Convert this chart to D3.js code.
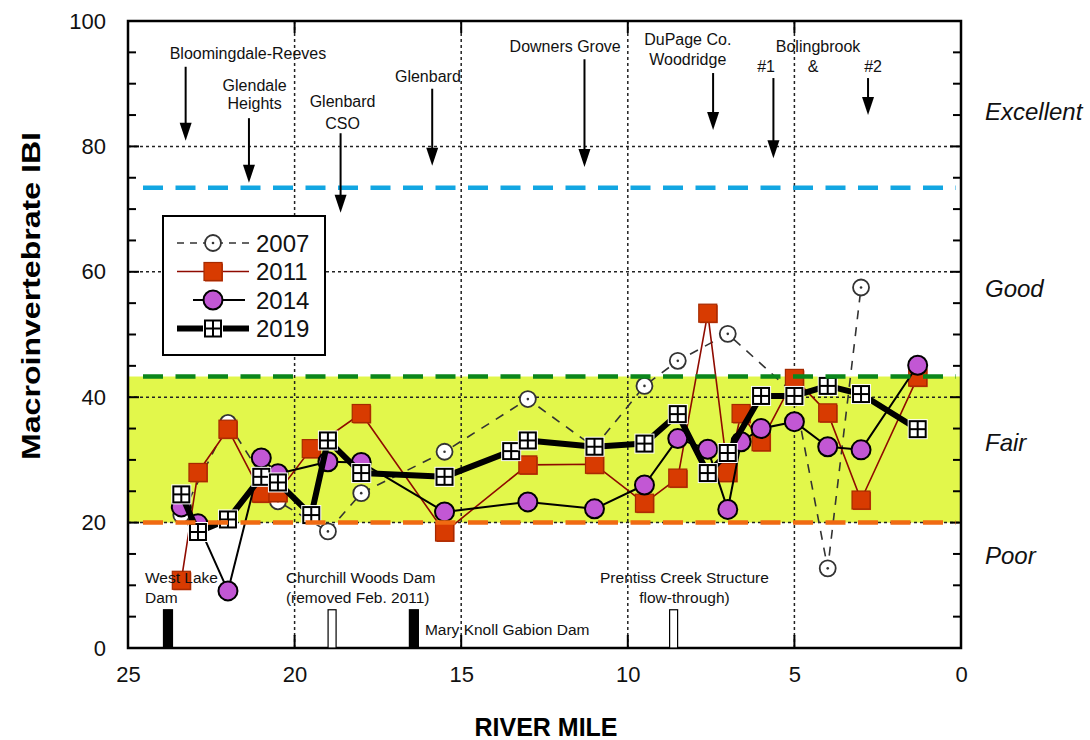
<!DOCTYPE html>
<html>
<head>
<meta charset="utf-8">
<script src="https://cdn.jsdelivr.net/npm/d3@7"></script>
<style>
  body { margin: 0; background: #fff; }
  svg text { font-family: "Liberation Sans", Arial, sans-serif; }
</style>
</head>
<body>
<div class="canvas"></div>
<script>
'use strict';

// River mile / IBI values per survey year
var miles2007 = [23.4, 22, 20.5, 19, 18, 15.5, 13, 11, 9.5, 8.5, 7, 5, 4, 3];
var ibi2007 = [21.2, 35.9, 23.4, 18.6, 24.7, 31.3, 39.7, 32, 41.8, 45.8, 50.1, 40.5, 12.7, 57.5];

var miles2011 = [23.4, 22.9, 22, 21, 20.5, 19.5, 18, 15.5, 13, 11, 9.5, 8.5, 7.6, 7, 6.6, 6, 5, 4, 3, 1.3];
var ibi2011 = [10.8, 28.0, 34.9, 24.7, 24.8, 31.8, 37.4, 18.5, 29.2, 29.3, 23.1, 27.1, 53.4, 28.0, 37.4, 32.9, 43.0, 37.5, 23.6, 43.2];

var miles2014 = [23.4, 22.9, 22, 21, 20.5, 19, 18, 15.5, 13, 11, 9.5, 8.5, 7.6, 7, 6.6, 6, 5, 4, 3, 1.3];
var ibi2014 = [22.5, 19.8, 9.1, 30.3, 27.8, 29.7, 29.6, 21.7, 23.3, 22.2, 26.0, 33.4, 31.7, 22.1, 32.9, 35.0, 36.1, 32.1, 31.6, 45.1];

var miles2019 = [23.4, 22.9, 22, 21, 20.5, 19.5, 19, 18, 15.5, 13.5, 13, 11, 9.5, 8.5, 7.6, 7, 6, 5, 4, 3, 1.3];
var ibi2019 = [24.5, 18.5, 20.5, 27.3, 26.4, 21.2, 33.1, 27.9, 27.3, 31.4, 33.1, 32.1, 32.6, 37.3, 27.9, 31.1, 40.2, 40.2, 41.8, 40.5, 34.9];

// Axis ticks
var xTicks = [25, 20, 15, 10, 5, 0];
var yTicks = [0, 20, 40, 60, 80, 100];

// Rating thresholds and labels
var fairLow = 20;
var fairHigh = 43.3;
var excellentLine = 73.4;
var ratings = [
  { label: 'Excellent', ibi: 85.5 },
  { label: 'Good', ibi: 57.4 },
  { label: 'Fair', ibi: 32.7 },
  { label: 'Poor', ibi: 14.7 }
];

// Discharges (text lines in IBI units, arrow from y1 down to y2)
var outfalls = [
  { lines: ['Bloomingdale-Reeves'], tx: 21.4, ty: [94.9], ax: 23.27, y1: 92.7, y2: 80.9 },
  { lines: ['Glendale', 'Heights'], tx: 21.2, ty: [89.8, 86.8], ax: 21.37, y1: 84.5, y2: 74.2 },
  { lines: ['Glenbard', 'CSO'], tx: 18.56, ty: [87.1, 83.6], ax: 18.62, y1: 82.1, y2: 69.4 },
  { lines: ['Glenbard'], tx: 16.0, ty: [91.2], ax: 15.87, y1: 89.2, y2: 76.9 },
  { lines: ['Downers Grove'], tx: 11.88, ty: [96.0], ax: 11.3, y1: 93.9, y2: 76.7 },
  { lines: ['DuPage Co.', 'Woodridge'], tx: 8.2, ty: [97.0, 93.9], ax: 7.44, y1: 91.7, y2: 82.6 },
  { lines: ['Bolingbrook'], tx: 4.29, ty: [96.0], ax: 5.63, y1: 90.9, y2: 78.1 },
  { lines: ['#1'], tx: 5.85, ty: [92.7], ax: null },
  { lines: ['&'], tx: 4.44, ty: [92.7], ax: null },
  { lines: ['#2'], tx: 2.64, ty: [92.7], ax: 2.79, y1: 90.9, y2: 85.0 }
];

// Dams / structures along the bottom
var dams = [
  { mile: 23.8, solid: true },
  { mile: 18.86, solid: false },
  { mile: 16.42, solid: true },
  { mile: 8.61, solid: false }
];
var damHeight = 6.1;
var damLabels = [
  { lines: ['West Lake', 'Dam'], mile: 24.49, ty: [11.3, 8.0], anchor: 'start' },
  { lines: ['Churchill Woods Dam', '(removed Feb. 2011)'], mile: 20.26, ty: [11.3, 8.0], anchor: 'start' },
  { lines: ['Mary Knoll Gabion Dam'], mile: 16.09, ty: [3.0], anchor: 'start' },
  { lines: ['Prentiss Creek Structure', 'flow-through)'], mile: 8.3, ty: [11.3, 8.0], anchor: 'middle' }
];

var width = 1090;
var height = 740;
var margin = { top: 21, right: 129, bottom: 92, left: 128 };
var graphWidth = width - margin.left - margin.right;
var graphHeight = height - margin.top - margin.bottom;

var svg = d3.select('.canvas').append('svg').attr('width', width).attr('height', height);
var graph = svg.append('g').attr('transform', 'translate(' + margin.left + ', ' + margin.top + ')');

var x = d3.scaleLinear().domain([25, 0]).range([0, graphWidth]);
var y = d3.scaleLinear().domain([0, 100]).range([graphHeight, 0]);

// Fair band
graph.append('rect')
  .attr('x', 0).attr('width', graphWidth)
  .attr('y', y(fairHigh)).attr('height', y(fairLow) - y(fairHigh))
  .attr('fill', '#e2f74b');

// Dotted grid
var gridDash = '3,3';
graph.append('g').selectAll('line').data(yTicks.slice(1))
  .enter().append('line')
  .attr('x1', 0).attr('x2', graphWidth)
  .attr('y1', function (d) { return y(d); }).attr('y2', function (d) { return y(d); })
  .attr('stroke', '#222').attr('stroke-width', 1.5).attr('stroke-dasharray', gridDash);
graph.append('g').selectAll('line').data([20, 15, 10, 5])
  .enter().append('line')
  .attr('y1', 0).attr('y2', graphHeight)
  .attr('x1', function (d) { return x(d); }).attr('x2', function (d) { return x(d); })
  .attr('stroke', '#222').attr('stroke-width', 1.5).attr('stroke-dasharray', gridDash);

// Axes: ticks point inward
var yMinor = d3.range(0, 101, 5);
var xAxis = d3.axisBottom(x).tickValues(xTicks).tickSize(0).tickPadding(18);
var yAxis = d3.axisLeft(y).tickValues(yTicks).tickSize(0).tickPadding(22);

var xAxisGroup = graph.append('g').attr('transform', 'translate(0, ' + graphHeight + ')').call(xAxis);
var yAxisGroup = graph.append('g').call(yAxis);
[xAxisGroup, yAxisGroup].forEach(function (g) {
  g.select('.domain').remove();
  g.selectAll('text').attr('font-size', 22).attr('fill', '#111')
    .attr('font-family', '"Liberation Sans", Arial, sans-serif');
});

var tickG = graph.append('g').attr('stroke', '#000').attr('stroke-width', 2);
yMinor.forEach(function (v) {
  var len = v % 20 === 0 ? 11 : 8;
  tickG.append('line').attr('x1', 0).attr('x2', len).attr('y1', y(v)).attr('y2', y(v));
  tickG.append('line').attr('x1', graphWidth - len).attr('x2', graphWidth).attr('y1', y(v)).attr('y2', y(v));
});
xTicks.forEach(function (m) {
  tickG.append('line').attr('x1', x(m)).attr('x2', x(m)).attr('y1', graphHeight).attr('y2', graphHeight - 13);
  tickG.append('line').attr('x1', x(m)).attr('x2', x(m)).attr('y1', 0).attr('y2', 12);
});

// Frame
graph.append('rect').attr('width', graphWidth).attr('height', graphHeight)
  .attr('fill', 'none').attr('stroke', '#000').attr('stroke-width', 2.5);

// Series
function pairs(ms, vs) {
  return ms.map(function (m, i) { return { mile: m, ibi: vs[i] }; });
}
var line = d3.line().x(function (d) { return x(d.mile); }).y(function (d) { return y(d.ibi); });

var series = [
  { data: pairs(miles2007, ibi2007), stroke: '#333', width: 1.6, dash: '9,8', symbol: 'open' },
  { data: pairs(miles2011, ibi2011), stroke: '#8f0b00', width: 1.6, dash: null, symbol: 'red' },
  { data: pairs(miles2014, ibi2014), stroke: '#000', width: 2, dash: null, symbol: 'purple' },
  { data: pairs(miles2019, ibi2019), stroke: '#000', width: 6, dash: null, symbol: 'grid' }
];

function drawSymbol(g, kind, cx, cy) {
  if (kind === 'open') {
    g.append('circle').attr('cx', cx).attr('cy', cy).attr('r', 8)
      .attr('fill', '#fff').attr('stroke', '#333').attr('stroke-width', 1.8);
    g.append('circle').attr('cx', cx).attr('cy', cy).attr('r', 1.3).attr('fill', '#333');
  } else if (kind === 'red') {
    g.append('rect').attr('x', cx - 8).attr('y', cy - 8).attr('width', 18).attr('height', 18)
      .attr('fill', '#c83a12');
    g.append('rect').attr('x', cx - 9).attr('y', cy - 9).attr('width', 18).attr('height', 18)
      .attr('fill', '#d83b01').attr('stroke', '#a52a00').attr('stroke-width', 1.2);
  } else if (kind === 'purple') {
    g.append('circle').attr('cx', cx).attr('cy', cy).attr('r', 9.5)
      .attr('fill', '#c257d4').attr('stroke', '#000').attr('stroke-width', 2);
  } else {
    g.append('rect').attr('x', cx - 10).attr('y', cy - 10).attr('width', 20).attr('height', 20)
      .attr('fill', '#fff');
    g.append('rect').attr('x', cx - 8).attr('y', cy - 8).attr('width', 16).attr('height', 16)
      .attr('fill', '#fff').attr('stroke', '#000').attr('stroke-width', 2);
    g.append('line').attr('x1', cx).attr('x2', cx).attr('y1', cy - 8).attr('y2', cy + 8)
      .attr('stroke', '#000').attr('stroke-width', 2);
    g.append('line').attr('x1', cx - 8).attr('x2', cx + 8).attr('y1', cy).attr('y2', cy)
      .attr('stroke', '#000').attr('stroke-width', 2);
  }
}

series.forEach(function (s) {
  var g = graph.append('g');
  g.append('path').datum(s.data).attr('d', line)
    .attr('fill', 'none').attr('stroke', s.stroke).attr('stroke-width', s.width)
    .attr('stroke-dasharray', s.dash).attr('stroke-linejoin', 'round');
  s.data.forEach(function (d) { drawSymbol(g, s.symbol, x(d.mile), y(d.ibi)); });
});

// Threshold lines
var thresholds = [
  { ibi: excellentLine, color: '#12a6e2' },
  { ibi: fairHigh, color: '#0b861c' },
  { ibi: fairLow, color: '#f06a12' }
];
graph.append('g').selectAll('line').data(thresholds)
  .enter().append('line')
  .attr('x1', 15).attr('x2', graphWidth - 5)
  .attr('y1', function (d) { return y(d.ibi); }).attr('y2', function (d) { return y(d.ibi); })
  .attr('stroke', function (d) { return d.color; })
  .attr('stroke-width', 4.5).attr('stroke-dasharray', '20,12.5');

// Dams
graph.append('g').selectAll('rect').data(dams)
  .enter().append('rect')
  .attr('x', function (d) { return x(d.mile) - 4.5; })
  .attr('width', function (d) { return d.solid ? 9 : 8; })
  .attr('y', y(damHeight)).attr('height', y(0) - y(damHeight))
  .attr('fill', function (d) { return d.solid ? '#000' : '#fff'; })
  .attr('stroke', '#000').attr('stroke-width', 1.2);

damLabels.forEach(function (d) {
  d.lines.forEach(function (t, i) {
    graph.append('text').attr('x', x(d.mile)).attr('y', y(d.ty[i])).attr('dy', '0.35em')
      .attr('text-anchor', d.anchor).attr('font-size', 15.5).attr('fill', '#111').text(t);
  });
});

// Outfall annotations
var arrowG = graph.append('g');
outfalls.forEach(function (d) {
  d.lines.forEach(function (t, i) {
    arrowG.append('text').attr('x', x(d.tx)).attr('y', y(d.ty[i])).attr('dy', '0.35em')
      .attr('text-anchor', 'middle').attr('font-size', 16).attr('fill', '#111').text(t);
  });
  if (d.ax !== null) {
    var ax = x(d.ax), top = y(d.y1), tip = y(d.y2);
    arrowG.append('line').attr('x1', ax).attr('x2', ax).attr('y1', top).attr('y2', tip - 10)
      .attr('stroke', '#000').attr('stroke-width', 2);
    arrowG.append('path')
      .attr('d', 'M' + (ax - 6) + ',' + (tip - 18) + 'L' + (ax + 6) + ',' + (tip - 18) + 'L' + ax + ',' + tip + 'Z')
      .attr('fill', '#000');
  }
});

// Rating labels on the right
svg.append('g').selectAll('text').data(ratings)
  .enter().append('text')
  .attr('x', margin.left + graphWidth + 24)
  .attr('y', function (d) { return margin.top + y(d.ibi); }).attr('dy', '0.35em')
  .attr('font-size', 24).attr('font-style', 'italic').attr('fill', '#111')
  .text(function (d) { return d.label; });

// Axis titles
svg.append('text').attr('x', 546).attr('y', 727).attr('dy', '0.35em')
  .attr('text-anchor', 'middle').attr('font-size', 25).attr('font-weight', 'bold').text('RIVER MILE');
svg.append('text').attr('transform', 'translate(31, 296) rotate(-90)').attr('dy', '0.35em')
  .attr('text-anchor', 'middle').attr('font-size', 25).attr('font-weight', 'bold')
  .attr('textLength', 328).attr('lengthAdjust', 'spacingAndGlyphs')
  .text('Macroinvertebrate IBI');

// Legend
var legend = graph.append('g').attr('transform', 'translate(' + (163 - margin.left) + ', ' + (216 - margin.top) + ')');
legend.append('rect').attr('width', 162).attr('height', 139)
  .attr('fill', '#fff').attr('stroke', '#000').attr('stroke-width', 2);
var years = ['2007', '2011', '2014', '2019'];
years.forEach(function (yr, i) {
  var s = series[i];
  var ly = 27 + i * 28.5;
  var x1 = i === 2 ? 30 : 14, x2 = i === 2 ? 82 : 86;
  legend.append('line').attr('x1', x1).attr('x2', x2).attr('y1', ly).attr('y2', ly)
    .attr('stroke', s.stroke).attr('stroke-width', s.width).attr('stroke-dasharray', s.dash ? '7,6' : null);
  drawSymbol(legend, s.symbol, 50, ly);
  legend.append('text').attr('x', 93).attr('y', ly).attr('dy', '0.36em')
    .attr('font-size', 24).attr('fill', '#111').text(yr);
});
</script>
</body>
</html>
